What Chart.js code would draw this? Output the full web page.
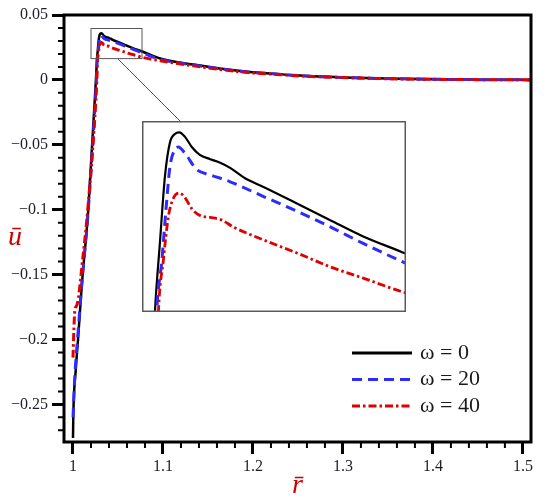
<!DOCTYPE html>
<html><head><meta charset="utf-8">
<script src="https://cdn.jsdelivr.net/npm/chart.js@4.4.1/dist/chart.umd.min.js"></script>
<style>
html,body{margin:0;padding:0;background:#fff;}
#wrap{position:relative;width:550px;height:502px;overflow:hidden;}
#main{position:absolute;left:0;top:0;}
#inset{position:absolute;left:142px;top:121px;}
</style></head><body>
<div id="wrap"><canvas id="main" width="550" height="502"></canvas><canvas id="inset" width="264" height="191"></canvas></div>
<script>
// ---- data ----
const seriesLabels = ['ω = 0', 'ω = 20', 'ω = 40'];

const rW0 = [1.0, 1.0004, 1.003, 1.0056, 1.0097, 1.017, 1.0255, 1.0266, 1.0276, 1.0286, 1.0296, 1.0306, 1.0315, 1.0326, 1.034, 1.0356, 1.0377, 1.0397, 1.0417, 1.0447, 1.0484, 1.0551, 1.0617, 1.0684, 1.077, 1.097, 1.134, 1.189, 1.226, 1.252, 1.30, 1.363, 1.45, 1.51];
const uW0 = [-0.276, -0.257, -0.224, -0.2, -0.159, -0.1, 0.0, 0.0152, 0.0232, 0.0308, 0.0347, 0.0357, 0.0359, 0.0354, 0.0342, 0.0333, 0.0328, 0.0324, 0.0318, 0.0306, 0.0296, 0.0277, 0.0258, 0.0239, 0.0219, 0.0165, 0.0118, 0.0066, 0.0046, 0.0033, 0.0019, 0.0008, 0.0002, 0.0];

const rW20 = [1.0, 1.0022, 1.005, 1.0097, 1.017, 1.026, 1.02695, 1.028, 1.0288, 1.0296, 1.0304, 1.0313, 1.0326, 1.035, 1.0377, 1.0417, 1.0484, 1.0551, 1.0618, 1.0684, 1.077, 1.097, 1.134, 1.189, 1.226, 1.252, 1.30, 1.363, 1.45, 1.51];
const uW20 = [-0.26, -0.226, -0.2, -0.158, -0.1, 0.0, 0.0152, 0.0212, 0.0269, 0.0319, 0.0337, 0.0342, 0.0335, 0.0316, 0.0310, 0.0302, 0.0285, 0.0268, 0.0250, 0.0231, 0.0208, 0.0158, 0.0115, 0.0064, 0.0045, 0.0032, 0.0019, 0.0008, 0.0002, 0.0];

const rW40 = [1.0, 1.001, 1.002, 1.004, 1.006, 1.0097, 1.017, 1.0265, 1.0273, 1.0283, 1.0293, 1.0303, 1.0315, 1.0326, 1.034, 1.0357, 1.0377, 1.04, 1.0423, 1.0484, 1.0551, 1.0618, 1.0684, 1.077, 1.097, 1.134, 1.189, 1.226, 1.252, 1.30, 1.363, 1.45, 1.51];
const uW40 = [-0.214, -0.192, -0.178, -0.174, -0.168, -0.145, -0.095, 0.0, 0.0152, 0.0212, 0.0262, 0.0283, 0.0289, 0.0284, 0.0271, 0.0263, 0.0261, 0.0258, 0.0250, 0.0235, 0.0220, 0.0204, 0.0191, 0.0174, 0.0148, 0.0108, 0.0060, 0.0042, 0.0030, 0.0018, 0.0007, 0.0002, 0.0];

const xTickValues = [1, 1.1, 1.2, 1.3, 1.4, 1.5];
const xTickLabels = ['1', '1.1', '1.2', '1.3', '1.4', '1.5'];
const yTickValues = [-0.25, -0.2, -0.15, -0.1, -0.05, 0, 0.05];
const yTickLabels = ['\u22120.25', '\u22120.2', '\u22120.15', '\u22120.1', '\u22120.05', '0', '0.05'];

const xTitle = 'r\u0304';
const yTitle = '\u016B';

// ---- styles ----
const styles = [
  {color: '#000000', width: 2.5, dash: [], insetWidth: 2.2},
  {color: '#2c2cff', width: 3, dash: [10, 6], insetWidth: 3},
  {color: '#e00000', width: 3, dash: [8, 3, 2.5, 3], insetWidth: 2.8}
];
const seriesR = [rW0, rW20, rW40];
const seriesU = [uW0, uW20, uW40];

function makeDatasets(inset) {
  return seriesLabels.map((lab, i) => ({
    label: lab,
    data: seriesR[i].map((r, k) => ({x: r, y: seriesU[i][k]})),
    borderColor: styles[i].color,
    borderWidth: inset ? styles[i].insetWidth : styles[i].width,
    borderDash: styles[i].dash,
    pointRadius: 0,
    fill: false,
    cubicInterpolationMode: 'monotone'
  })).reverse();
}

const tickFont = {family: '"Liberation Serif", "Times New Roman", serif', size: 16};
const tickColor = '#1e1e2a';

const deco = {
  id: 'deco',
  afterDraw(chart) {
    const {ctx, chartArea: a, scales} = chart;
    const xs = scales.x, ys = scales.y;
    ctx.save();
    // minor ticks
    ctx.strokeStyle = '#000';
    ctx.lineWidth = 2;
    ctx.beginPath();
    for (let k = -27; k <= 5; k++) {
      if (k % 5 === 0) continue;
      const v = k / 100;
      if (v < ys.min || v > ys.max) continue;
      const p = ys.getPixelForValue(v);
      ctx.moveTo(a.left, p); ctx.lineTo(a.left - 6, p);
    }
    for (let k = 50; k <= 75; k++) {
      if (k % 5 === 0) continue;
      const v = k / 50;
      if (v < xs.min || v > xs.max) continue;
      const p = xs.getPixelForValue(v);
      ctx.moveTo(p, a.bottom); ctx.lineTo(p, a.bottom + 6);
    }
    ctx.stroke();
    // frame
    ctx.lineWidth = 3;
    ctx.strokeRect(a.left, a.top, a.right - a.left, a.bottom - a.top);

    // zoom box and connector
    const bx1 = xs.getPixelForValue(1.02), bx2 = xs.getPixelForValue(1.0767);
    const by1 = ys.getPixelForValue(0.0396), by2 = ys.getPixelForValue(0.0164);
    ctx.strokeStyle = '#555';
    ctx.lineWidth = 1;
    ctx.strokeRect(bx1, by1, bx2 - bx1, by2 - by1);
    ctx.beginPath();
    ctx.moveTo(xs.getPixelForValue(1.0495), by2);
    ctx.lineTo(180, 121);
    ctx.stroke();

    // axis titles
    ctx.fillStyle = '#cc0000';
    ctx.font = 'italic 28px "Liberation Serif"';
    ctx.textAlign = 'center';
    ctx.textBaseline = 'alphabetic';
    ctx.fillText(yTitle, 15, 245);
    ctx.fillText(xTitle, (a.left + a.right) / 2, 493);

    // legend
    const ds = chart.data.datasets.slice().reverse();
    ds.forEach((d, i) => {
      const y = a.bottom - 89 + i * 26.5;
      const x0 = a.right - 179;
      ctx.strokeStyle = d.borderColor;
      ctx.lineWidth = 3;
      ctx.setLineDash(d.borderDash || []);
      ctx.beginPath();
      ctx.moveTo(x0, y); ctx.lineTo(x0 + 60, y);
      ctx.stroke();
      ctx.setLineDash([]);
      ctx.fillStyle = '#1a1a1a';
      ctx.font = '22px "Liberation Serif"';
      ctx.textAlign = 'left';
      ctx.textBaseline = 'middle';
      ctx.fillText(d.label, x0 + 68, y);
    });
    ctx.restore();
  }
};

new Chart(document.getElementById('main'), {
  type: 'line',
  data: {datasets: makeDatasets(false)},
  options: {
    responsive: false,
    animation: false,
    layout: {padding: {left: 0, top: 15, right: 19, bottom: 0}},
    plugins: {legend: {display: false}, tooltip: {enabled: false}},
    scales: {
      x: {
        type: 'linear', min: 0.99, max: 1.509,
        afterFit(s) { s.height = 60; },
        afterBuildTicks(s) { s.ticks = xTickValues.map(v => ({value: v})); },
        ticks: {callback: (v, i) => xTickLabels[i], font: tickFont, color: tickColor, padding: 3, maxRotation: 0, autoSkip: false},
        grid: {drawOnChartArea: false, tickLength: 12, tickWidth: 3, tickColor: '#000'},
        border: {display: false}
      },
      y: {
        type: 'linear', min: -0.279, max: 0.05,
        afterFit(s) { s.width = 64; },
        afterBuildTicks(s) { s.ticks = yTickValues.map(v => ({value: v})); },
        ticks: {callback: (v, i) => yTickLabels[i], font: tickFont, color: tickColor, padding: 4, autoSkip: false},
        grid: {drawOnChartArea: false, tickLength: 12, tickWidth: 3, tickColor: '#000'},
        border: {display: false}
      }
    }
  },
  plugins: [deco]
});

const insetFrame = {
  id: 'insetFrame',
  beforeDraw(chart) {
    const {ctx, width, height} = chart;
    ctx.save(); ctx.fillStyle = '#fff'; ctx.fillRect(0, 0, width, height); ctx.restore();
  },
  afterDraw(chart) {
    const {ctx, width, height} = chart;
    ctx.save(); ctx.strokeStyle = '#5a5a5a'; ctx.lineWidth = 1.5;
    ctx.strokeRect(0.75, 0.75, width - 1.5, height - 1.5); ctx.restore();
  }
};

new Chart(document.getElementById('inset'), {
  type: 'line',
  data: {datasets: makeDatasets(true)},
  options: {
    responsive: false,
    animation: false,
    layout: {padding: 0},
    plugins: {legend: {display: false}, tooltip: {enabled: false}},
    scales: {
      x: {type: 'linear', display: false, min: 1.024, max: 1.077},
      y: {type: 'linear', display: false, min: 0.0152, max: 0.0372}
    }
  },
  plugins: [insetFrame]
});
</script>
</body></html>
